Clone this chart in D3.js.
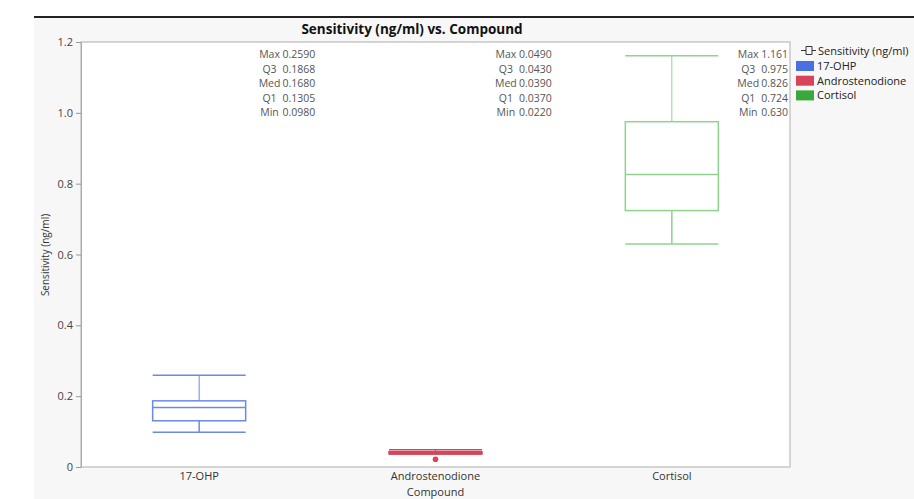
<!DOCTYPE html>
<html>
<head>
<meta charset="utf-8">
<script src="https://cdn.jsdelivr.net/npm/d3@7"></script>
<style>
  body { margin: 0; background: #fff; font-family: "Open Sans", "Noto Sans", sans-serif; }
</style>
</head>
<body>
<div id="chart"></div>
<script>
const categories = ["17-OHP", "Androstenodione", "Cortisol"];
const maxVals = [0.2590, 0.0490, 1.161];
const q3Vals = [0.1868, 0.0430, 0.975];
const medVals = [0.1680, 0.0390, 0.826];
const q1Vals = [0.1305, 0.0370, 0.724];
const minVals = [0.0980, 0.0220, 0.630];
const lowWhisker = [0.0980, 0.0370, 0.630];
const outliers = [[], [0.0220], []];
const statLabels = ["Max", "Q3", "Med", "Q1", "Min"];
const statText = [
  ["0.2590", "0.1868", "0.1680", "0.1305", "0.0980"],
  ["0.0490", "0.0430", "0.0390", "0.0370", "0.0220"],
  ["1.161", "0.975", "0.826", "0.724", "0.630"]
];
const yTicks = [0, 0.2, 0.4, 0.6, 0.8, 1.0, 1.2];

const width = 914, height = 499;
const margin = { top: 42, right: 124, bottom: 32, left: 81 };
const colors = ["#4a6fe0", "#d6435a", "#3aa83a"];
const lineColors = ["#6a8ae6", "#d6435a", "#8ed38e"];

const svg = d3.select("#chart").append("svg").attr("width", width).attr("height", height);
svg.append("rect").attr("x", 34).attr("y", 17).attr("width", width - 34).attr("height", height - 17).attr("fill", "#f7f7f7");
svg.append("line").attr("x1", 34).attr("x2", width).attr("y1", 17).attr("y2", 17).attr("stroke", "#222").attr("stroke-width", 2);

const innerW = width - margin.left - margin.right;
const xScale = d3.scaleBand().domain(categories).range([margin.left, width - margin.right]);
const yScale = d3.scaleLinear().domain([0, 1.2]).range([467, margin.top]);

svg.append("rect").attr("x", margin.left).attr("y", margin.top)
  .attr("width", innerW).attr("height", 467 - margin.top)
  .attr("fill", "#fff").attr("stroke", "#c8c8c8").attr("stroke-width", 1.5);

svg.append("text").text("Sensitivity (ng/ml) vs. Compound")
  .attr("x", 412).attr("y", 34).attr("text-anchor", "middle")
  .attr("font-size", 13.5).attr("font-weight", "bold").attr("fill", "#111");

const yAxis = d3.axisLeft(yScale).tickValues(yTicks).tickSize(5)
  .tickFormat(d => d === 0 ? "0" : d3.format(".1f")(d));
const gy = svg.append("g").attr("transform", `translate(${margin.left},0)`).call(yAxis);
gy.select(".domain").attr("stroke", "#aaa");
gy.selectAll(".tick line").attr("stroke", "#999");
gy.selectAll(".tick text").attr("font-size", 11).attr("fill", "#444").attr("font-family", "Open Sans, sans-serif");

const xAxis = d3.axisBottom(xScale).tickSize(0);
const gx = svg.append("g").attr("transform", "translate(0,467)").call(xAxis);
gx.select(".domain").remove();
gx.selectAll(".tick text").attr("font-size", 11).attr("fill", "#333").attr("dy", "0.9em").attr("font-family", "Open Sans, sans-serif");

svg.append("text").text("Compound").attr("x", xScale("Androstenodione") + xScale.bandwidth() / 2)
  .attr("y", 496).attr("text-anchor", "middle").attr("font-size", 11).attr("fill", "#333");
svg.append("text").text("Sensitivity (ng/ml)").attr("transform", "translate(49,255) rotate(-90)")
  .attr("text-anchor", "middle").attr("font-size", 10).attr("fill", "#333");

const boxW = 93;
categories.forEach((c, i) => {
  const cx = xScale(c) + xScale.bandwidth() / 2;
  const g = svg.append("g").attr("stroke", lineColors[i]).attr("fill", "none").attr("stroke-width", 1.5);
  const thick = i === 1;
  g.append("line").attr("x1", cx).attr("x2", cx).attr("y1", yScale(maxVals[i])).attr("y2", yScale(q3Vals[i])).attr("stroke-width", 1);
  g.append("line").attr("x1", cx).attr("x2", cx).attr("y1", yScale(q1Vals[i])).attr("y2", yScale(lowWhisker[i]));
  g.append("line").attr("x1", cx - boxW / 2).attr("x2", cx + boxW / 2).attr("y1", yScale(maxVals[i])).attr("y2", yScale(maxVals[i]));
  g.append("line").attr("x1", cx - boxW / 2).attr("x2", cx + boxW / 2).attr("y1", yScale(lowWhisker[i])).attr("y2", yScale(lowWhisker[i]));
  g.append("rect").attr("x", cx - boxW / 2).attr("width", boxW)
    .attr("y", yScale(q3Vals[i])).attr("height", yScale(q1Vals[i]) - yScale(q3Vals[i]))
    .attr("fill", thick ? lineColors[i] : "none");
  g.append("line").attr("x1", cx - boxW / 2).attr("x2", cx + boxW / 2).attr("y1", yScale(medVals[i])).attr("y2", yScale(medVals[i]));
  outliers[i].forEach(v => {
    svg.append("circle").attr("cx", cx).attr("cy", yScale(v)).attr("r", 2.8).attr("fill", lineColors[i]);
  });

  // summary statistics
  const right = xScale(c) + xScale.bandwidth();
  const tg = svg.append("g").attr("font-size", 10.5).attr("fill", "#555");
  const vals = tg.selectAll(".v").data(statText[i]).enter().append("text").attr("class", "v")
    .text(d => d).attr("y", (d, k) => 58 + k * 14.6);
  let maxLen = 0;
  vals.each(function () { maxLen = Math.max(maxLen, this.getComputedTextLength()); });
  const vx = right - maxLen - 2;
  vals.attr("x", vx);
  tg.selectAll(".l").data(statLabels).enter().append("text").attr("class", "l")
    .text(d => d).attr("x", vx - 13).attr("text-anchor", "middle").attr("y", (d, k) => 58 + k * 14.6);
});

// legend
const lg = svg.append("g").attr("font-size", 11).attr("fill", "#222");
lg.append("path").attr("d", "M801,50.5 H806 M806,46.5 V54.5 H812 V46.5 H806 M812,50.5 H816")
  .attr("stroke", "#333").attr("fill", "none").attr("stroke-width", 1);
lg.append("text").text("Sensitivity (ng/ml)").attr("x", 818).attr("y", 55);
categories.forEach((c, i) => {
  lg.append("rect").attr("x", 796).attr("y", 61 + i * 14.7).attr("width", 18).attr("height", 10).attr("fill", colors[i]);
  lg.append("text").text(c).attr("x", 817).attr("y", 70 + i * 14.7);
});
</script>
</body>
</html>
